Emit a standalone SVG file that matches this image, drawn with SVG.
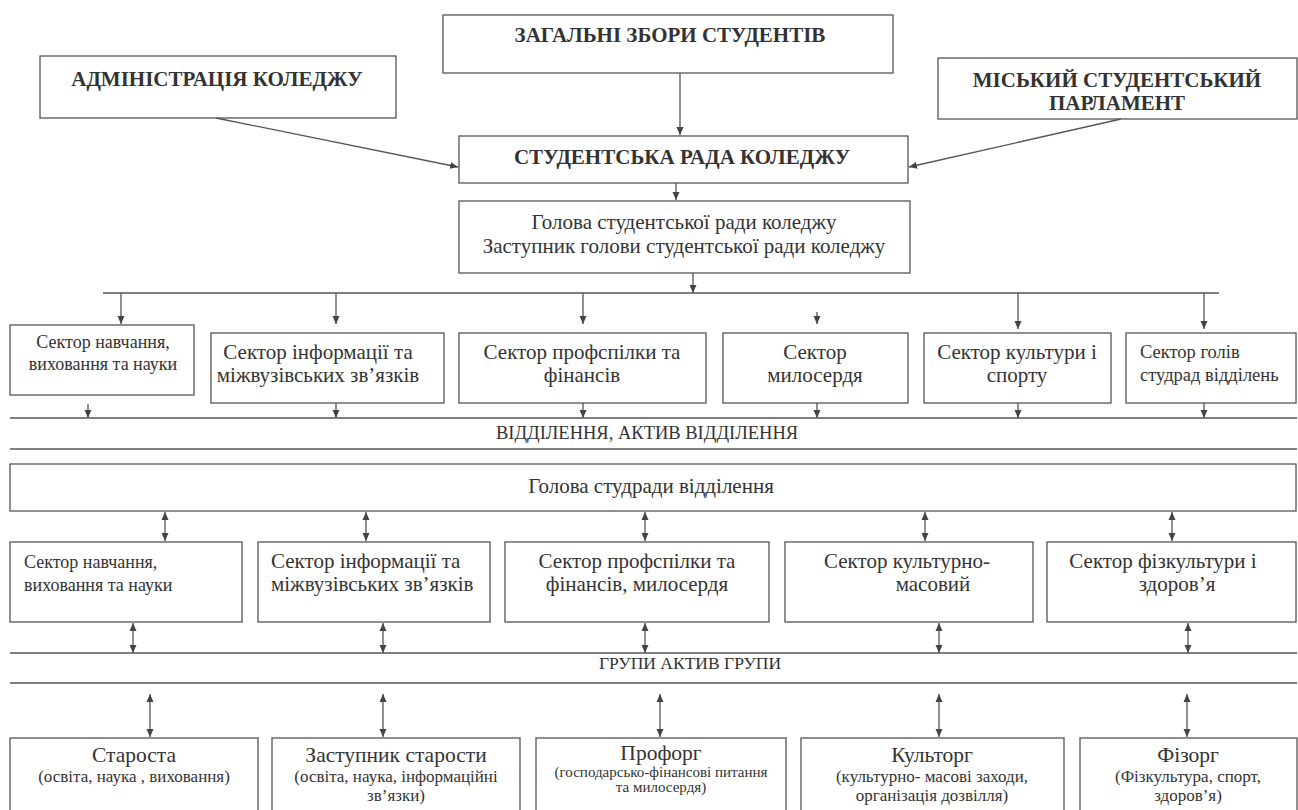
<svg xmlns="http://www.w3.org/2000/svg" width="1298" height="810" viewBox="0 0 1298 810">
<style>
.box{fill:#fff;stroke:#555;stroke-width:1.3}
.ln{fill:none;stroke:#555;stroke-width:1.3}
.t{font-family:"Liberation Serif","Times New Roman",serif;fill:#333}
.b{font-weight:bold;font-size:21px}
.m{text-anchor:middle}
</style>
<defs>
<marker id="ah" viewBox="0 0 8 8" refX="8" refY="4" markerWidth="8" markerHeight="8" markerUnits="userSpaceOnUse" orient="auto-start-reverse">
<path d="M0,0.5 L8,4 L0,7.5 z" fill="#444"/>
</marker>
</defs>
<rect width="1298" height="810" fill="#fff"/>

<g id="n-zagalni"><rect class="box" x="443" y="15" width="450" height="58"/><text class="t b m" x="670" y="42">ЗАГАЛЬНІ ЗБОРИ СТУДЕНТІВ</text></g>
<g id="n-admin"><rect class="box" x="40" y="56" width="356" height="62"/><text class="t b m" x="217" y="86">АДМІНІСТРАЦІЯ КОЛЕДЖУ</text></g>
<g id="n-misky"><rect class="box" x="938" y="58" width="359" height="61"/><text class="t b m" x="1117" y="87">МІСЬКИЙ СТУДЕНТСЬКИЙ</text><text class="t b m" x="1117" y="110">ПАРЛАМЕНТ</text></g>
<g id="n-rada"><rect class="box" x="459" y="136" width="449" height="47"/><text class="t b m" x="682" y="164">СТУДЕНТСЬКА РАДА КОЛЕДЖУ</text></g>
<g id="n-holova"><rect class="box" x="459" y="201" width="451" height="72"/><text class="t m" x="684" y="229" font-size="21">Голова студентської ради коледжу</text><text class="t m" x="684" y="253" font-size="21">Заступник голови студентської ради коледжу</text></g>

<g id="n-s1"><rect class="box" x="10" y="325" width="184" height="70"/><text class="t m" x="103" y="348" font-size="18">Сектор навчання,</text><text class="t m" x="103" y="370" font-size="18">виховання та науки</text></g>
<g id="n-s2"><rect class="box" x="211" y="333" width="233" height="70"/><text class="t m" x="318" y="359" font-size="21">Сектор інформації та</text><text class="t m" x="318" y="382" font-size="21">міжвузівських зв’язків</text></g>
<g id="n-s3"><rect class="box" x="459" y="333" width="247" height="70"/><text class="t m" x="582" y="359" font-size="21">Сектор профспілки та</text><text class="t m" x="582" y="382" font-size="21">фінансів</text></g>
<g id="n-s4"><rect class="box" x="723" y="333" width="185" height="70"/><text class="t m" x="815" y="359" font-size="21">Сектор</text><text class="t m" x="815" y="382" font-size="21">милосердя</text></g>
<g id="n-s5"><rect class="box" x="924" y="333" width="187" height="70"/><text class="t m" x="1017" y="359" font-size="21">Сектор культури і</text><text class="t m" x="1017" y="382" font-size="21">спорту</text></g>
<g id="n-s6"><rect class="box" x="1126" y="333" width="170" height="70"/><text class="t" x="1140" y="358" font-size="18.5">Сектор голів</text><text class="t" x="1140" y="381" font-size="18.5">студрад відділень</text></g>

<g id="n-viddilennya"><text class="t m" x="647" y="439" font-size="18.5">ВІДДІЛЕННЯ, АКТИВ ВІДДІЛЕННЯ</text></g>

<g id="n-holova-vid"><rect class="box" x="10" y="464" width="1286" height="47"/><text class="t m" x="651" y="493" font-size="21">Голова студради відділення</text></g>

<g id="n-r1"><rect class="box" x="10" y="542" width="232" height="80"/><text class="t" x="24" y="568" font-size="18">Сектор навчання,</text><text class="t" x="24" y="591" font-size="18">виховання та науки</text></g>
<g id="n-r2"><rect class="box" x="258" y="542" width="232" height="80"/><text class="t" x="271" y="568" font-size="21">Сектор інформації та</text><text class="t" x="271" y="591" font-size="21">міжвузівських зв’язків</text></g>
<g id="n-r3"><rect class="box" x="505" y="542" width="264" height="80"/><text class="t m" x="637" y="568" font-size="21">Сектор профспілки та</text><text class="t m" x="637" y="591" font-size="21">фінансів, милосердя</text></g>
<g id="n-r4"><rect class="box" x="785" y="542" width="248" height="80"/><text class="t m" x="907" y="568" font-size="21">Сектор культурно-</text><text class="t m" x="933" y="591" font-size="21">масовий</text></g>
<g id="n-r5"><rect class="box" x="1047" y="542" width="249" height="80"/><text class="t m" x="1163" y="568" font-size="21">Сектор фізкультури і</text><text class="t m" x="1177" y="591" font-size="21">здоров’я</text></g>

<g id="n-grupy"><text class="t m" x="690" y="669" font-size="17.5">ГРУПИ АКТИВ ГРУПИ</text></g>

<g id="n-starosta"><rect class="box" x="10" y="738" width="248" height="80"/><text class="t m" x="134" y="762" font-size="21.5">Староста</text><text class="t m" x="134" y="782" font-size="17">(освіта, наука , виховання)</text></g>
<g id="n-zast"><rect class="box" x="272" y="738" width="248" height="80"/><text class="t m" x="396" y="762" font-size="21.5">Заступник старости</text><text class="t m" x="396" y="782" font-size="17">(освіта, наука, інформаційні</text><text class="t m" x="396" y="801" font-size="17">зв’язки)</text></g>
<g id="n-proforg"><rect class="box" x="536" y="738" width="250" height="80"/><text class="t m" x="661" y="760" font-size="21.5">Профорг</text><text class="t m" x="661" y="777" font-size="15">(господарсько-фінансові питання</text><text class="t m" x="661" y="792" font-size="15">та милосердя)</text></g>
<g id="n-kultorg"><rect class="box" x="801" y="738" width="263" height="80"/><text class="t m" x="932" y="762" font-size="21.5">Культорг</text><text class="t m" x="932" y="782" font-size="17">(культурно- масові заходи,</text><text class="t m" x="932" y="801" font-size="17">організація дозвілля)</text></g>
<g id="n-fizorg"><rect class="box" x="1080" y="738" width="217" height="80"/><text class="t m" x="1188" y="762" font-size="21.5">Фізорг</text><text class="t m" x="1188" y="782" font-size="17">(Фізкультура, спорт,</text><text class="t m" x="1188" y="801" font-size="17">здоров’я)</text></g>

<g id="connectors">
<line class="ln" x1="680" y1="73" x2="680" y2="135" marker-end="url(#ah)"/>
<line class="ln" x1="216" y1="118" x2="458" y2="167" marker-end="url(#ah)"/>
<line class="ln" x1="1121" y1="119" x2="909" y2="167" marker-end="url(#ah)"/>
<line class="ln" x1="676" y1="183" x2="676" y2="200" marker-end="url(#ah)"/>
<line class="ln" x1="693" y1="273" x2="693" y2="293" marker-end="url(#ah)"/>
<line class="ln" x1="103" y1="293" x2="1219" y2="293"/>
<line class="ln" x1="121" y1="293" x2="121" y2="324" marker-end="url(#ah)"/>
<line class="ln" x1="336" y1="293" x2="336" y2="324" marker-end="url(#ah)"/>
<line class="ln" x1="583" y1="293" x2="583" y2="324" marker-end="url(#ah)"/>
<line class="ln" x1="817" y1="312" x2="817" y2="324" marker-end="url(#ah)"/>
<line class="ln" x1="1018" y1="293" x2="1018" y2="329" marker-end="url(#ah)"/>
<line class="ln" x1="1204" y1="293" x2="1204" y2="329" marker-end="url(#ah)"/>
<line class="ln" x1="88" y1="404" x2="88" y2="418" marker-end="url(#ah)"/>
<line class="ln" x1="336" y1="403" x2="336" y2="418" marker-end="url(#ah)"/>
<line class="ln" x1="583" y1="403" x2="583" y2="418" marker-end="url(#ah)"/>
<line class="ln" x1="817" y1="403" x2="817" y2="418" marker-end="url(#ah)"/>
<line class="ln" x1="1018" y1="403" x2="1018" y2="418" marker-end="url(#ah)"/>
<line class="ln" x1="1204" y1="403" x2="1204" y2="418" marker-end="url(#ah)"/>
<line class="ln" x1="10" y1="418" x2="1297" y2="418"/>
<line class="ln" x1="10" y1="449" x2="1297" y2="449"/>
<line class="ln" x1="165" y1="512" x2="165" y2="541" marker-start="url(#ah)" marker-end="url(#ah)"/>
<line class="ln" x1="366" y1="512" x2="366" y2="541" marker-start="url(#ah)" marker-end="url(#ah)"/>
<line class="ln" x1="645" y1="512" x2="645" y2="541" marker-start="url(#ah)" marker-end="url(#ah)"/>
<line class="ln" x1="925" y1="512" x2="925" y2="541" marker-start="url(#ah)" marker-end="url(#ah)"/>
<line class="ln" x1="1172" y1="512" x2="1172" y2="541" marker-start="url(#ah)" marker-end="url(#ah)"/>
<line class="ln" x1="133" y1="623" x2="133" y2="653" marker-start="url(#ah)" marker-end="url(#ah)"/>
<line class="ln" x1="383" y1="623" x2="383" y2="653" marker-start="url(#ah)" marker-end="url(#ah)"/>
<line class="ln" x1="645" y1="623" x2="645" y2="653" marker-start="url(#ah)" marker-end="url(#ah)"/>
<line class="ln" x1="939" y1="623" x2="939" y2="653" marker-start="url(#ah)" marker-end="url(#ah)"/>
<line class="ln" x1="1188" y1="623" x2="1188" y2="653" marker-start="url(#ah)" marker-end="url(#ah)"/>
<line class="ln" x1="10" y1="653" x2="1297" y2="653"/>
<line class="ln" x1="10" y1="683" x2="1297" y2="683"/>
<line class="ln" x1="150" y1="694" x2="150" y2="737" marker-start="url(#ah)" marker-end="url(#ah)"/>
<line class="ln" x1="383" y1="694" x2="383" y2="737" marker-start="url(#ah)" marker-end="url(#ah)"/>
<line class="ln" x1="660" y1="694" x2="660" y2="737" marker-start="url(#ah)" marker-end="url(#ah)"/>
<line class="ln" x1="939" y1="694" x2="939" y2="737" marker-start="url(#ah)" marker-end="url(#ah)"/>
<line class="ln" x1="1187" y1="694" x2="1187" y2="737" marker-start="url(#ah)" marker-end="url(#ah)"/>
</g>
</svg>
